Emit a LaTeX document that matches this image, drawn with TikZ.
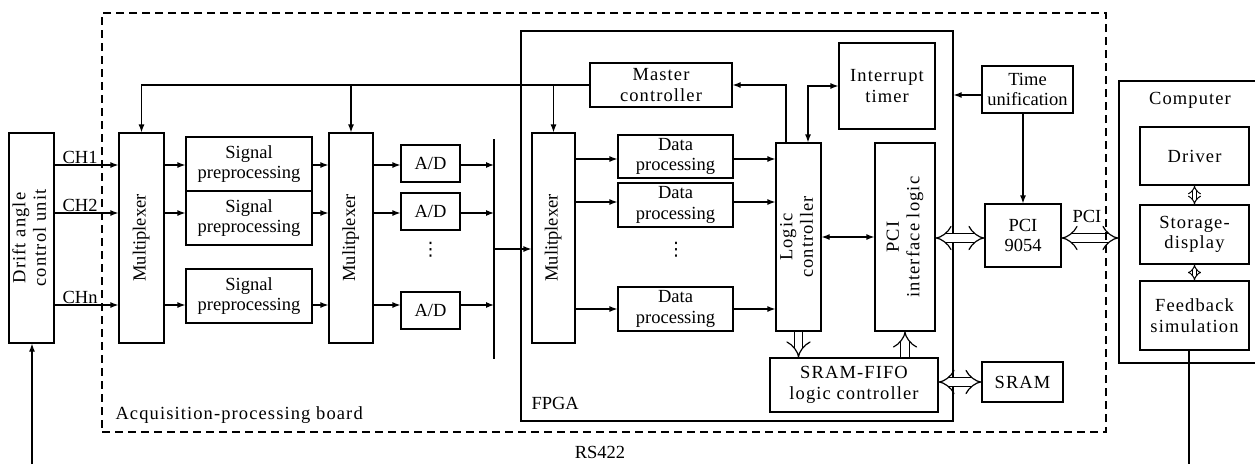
\documentclass[tikz,border=0pt]{standalone}
\usepackage{fontspec}
\usepackage{graphicx}
\setmainfont{Liberation Serif}
\newfontfamily\spaced{Liberation Serif}[LetterSpace=6]
\newfontfamily\dotsfont{DejaVu Sans}
\usetikzlibrary{arrows.meta}

\newcommand{\vlab}[1]{\rotatebox{90}{\begin{tabular}{@{}c@{}}#1\end{tabular}}}

\tikzset{
    blk/.style={draw, line width=1.2pt, inner sep=1pt, align=center},
    wide/.style={font=\fontsize{18.5}{20.5}\spaced},
    arr/.style={line width=1.2pt, -{Latex[length=8pt,width=6pt]}},
    arrb/.style={line width=1.2pt, {Latex[length=8pt,width=6pt]}-{Latex[length=8pt,width=6pt]}},
    hol/.style={double, double distance=7.5pt, line width=1.2pt, -{Implies[scale=1.25]}},
    holb/.style={double, double distance=7.5pt, line width=1.2pt, {Implies[scale=1.25]}-{Implies[scale=1.25]}},
    holsm/.style={double, double distance=3.5pt, line width=1pt, {Implies[scale=1.5]}-{Implies[scale=1.5]}}
}

\begin{document}
\begin{tikzpicture}[x=1pt, y=-1pt, font=\fontsize{18.5}{20.5}\selectfont]
    \useasboundingbox (0,0) rectangle (1255,464);

    % outer frames
    \node[draw, line width=1.2pt, minimum width=432pt, minimum height=390pt] (fpga) at (737,226) {};
    \node[draw, line width=1.2pt, minimum width=142pt, minimum height=282pt] (comp) at (1190,222) {};

    % acquisition side
    \node[blk, wide, minimum width=45pt, minimum height=210pt] (drift) at (31.5,238) {\vlab{Drift angle\\control unit}};
    \node[blk, minimum width=45pt, minimum height=210pt] (mux1) at (141.5,238) {\vlab{Multiplexer}};
    \node[blk, minimum width=126pt, minimum height=54pt] (sp1) at (249,164) {Signal\\preprocessing};
    \node[blk, minimum width=126pt, minimum height=54pt] (sp2) at (249,218) {Signal\\preprocessing};
    \node[blk, minimum width=126pt, minimum height=54pt] (sp3) at (249,296) {Signal\\preprocessing};
    \node[blk, minimum width=44pt, minimum height=210pt] (mux2) at (351,238) {\vlab{Mulitplexer}};
    \node[blk, minimum width=59pt, minimum height=37pt] (ad1) at (430.5,163.5) {A/D};
    \node[blk, minimum width=59pt, minimum height=37pt] (ad2) at (430.5,211.5) {A/D};
    \node[blk, minimum width=59pt, minimum height=37pt] (ad3) at (430.5,310.5) {A/D};
    \node (addots) at (430.5,250) {\dotsfont ⋮};
    \coordinate (bust) at (494,139);
    \coordinate (busb) at (494,359);

    % fpga
    \node[blk, wide, minimum width=142pt, minimum height=44pt] (master) at (661,85) {Master\\controller};
    \node[blk, minimum width=43pt, minimum height=210pt] (mux3) at (553.5,238) {\vlab{Mulitplexer}};
    \node[blk, minimum width=115pt, minimum height=43pt] (dp1) at (675.5,156.5) {Data\\processing};
    \node[blk, minimum width=115pt, minimum height=44pt] (dp2) at (675.5,205) {Data\\processing};
    \node[blk, minimum width=115pt, minimum height=44pt] (dp3) at (675.5,309) {Data\\processing};
    \node (dpdots) at (676,250) {\dotsfont ⋮};
    \node[blk, wide, minimum width=45pt, minimum height=188pt] (logic) at (798.5,237) {\vlab{Logic\\controller}};
    \node[blk, wide, minimum width=96pt, minimum height=86pt] (inttimer) at (887,86) {Interrupt\\timer};
    \node[blk, wide, minimum width=60pt, minimum height=188pt] (pcilogic) at (905,237) {\vlab{PCI\\interface logic}};
    \node[blk, wide, minimum width=168pt, minimum height=54pt] (sramfifo) at (854,385) {SRAM-FIFO\\logic controller};
    \node[anchor=west] (fpgalbl) at (528,403) {FPGA};

    % board
    \node[blk, wide, minimum width=81pt, minimum height=40pt] (sram) at (1022.5,382) {SRAM};
    \node[blk, minimum width=91pt, minimum height=47pt] (timeu) at (1027.5,89.5) {Time\\unification};
    \node[blk, minimum width=76pt, minimum height=63pt] (pci) at (1023,235.5) {PCI\\9054};
    \node[wide, anchor=west] (boardlbl) at (112,415) {Acquisition-processing board};

    % computer
    \node[wide] (comptxt) at (1190,100) {Computer};
    \node[blk, wide, minimum width=109pt, minimum height=58pt] (driver) at (1194.5,156) {Driver};
    \node[blk, wide, minimum width=109pt, minimum height=59pt] (storage) at (1194.5,234.5) {Storage-\\display};
    \node[blk, wide, minimum width=109pt, minimum height=69pt] (feedback) at (1194.5,315.5) {Feedback\\simulation};

    \node (rs) at (600,452) {RS422};
    \node (pcilbl) at (1087,216) {PCI};
    \coordinate (rsl) at (32,464);
    \coordinate (rsr) at (1189,464);

    % channels
    \draw[arr] (drift.east |- 0,165) -- node[above, pos=.4, inner sep=1pt] (ch1) {CH1} (mux1.west |- 0,165);
    \draw[arr] (drift.east |- 0,213) -- node[above, pos=.4, inner sep=1pt] (ch2) {CH2} (mux1.west |- 0,213);
    \draw[arr] (drift.east |- 0,305) -- node[above, pos=.4, inner sep=1pt] (chn) {CHn} (mux1.west |- 0,305);
    \draw[arr] (mux1.east |- 0,165) -- (sp1.west |- 0,165);
    \draw[arr] (mux1.east |- 0,213) -- (sp2.west |- 0,213);
    \draw[arr] (mux1.east |- 0,305) -- (sp3.west |- 0,305);
    \draw[arr] (sp1.east |- 0,165) -- (mux2.west |- 0,165);
    \draw[arr] (sp2.east |- 0,213) -- (mux2.west |- 0,213);
    \draw[arr] (sp3.east |- 0,305) -- (mux2.west |- 0,305);
    \draw[arr] (mux2.east |- 0,165) -- (ad1.west |- 0,165);
    \draw[arr] (mux2.east |- 0,213) -- (ad2.west |- 0,213);
    \draw[arr] (mux2.east |- 0,305) -- (ad3.west |- 0,305);
    \draw[arr] (ad1.east |- 0,165) -- (bust |- 0,165);
    \draw[arr] (ad2.east |- 0,213) -- (bust |- 0,213);
    \draw[arr] (ad3.east |- 0,305) -- (bust |- 0,305);
    \draw[line width=1.2pt] (bust) -- (busb);
    \draw[arr] (bust |- 0,249) -- (mux3.west |- 0,249);

    % control lines
    \draw[arr] (master.west) -| (mux1.north);
    \draw[arr] (master.west -| mux2.north) -- (mux2.north);
    \draw[arr] (master.west -| mux3.north) -- (mux3.north);
    \draw[arr] ([xshift=-12.5pt]logic.north) |- (master.east);
    \draw[arrb] ([xshift=9.5pt]logic.north) |- (inttimer.west);

    % data paths
    \draw[arr] (mux3.east |- 0,159) -- (dp1.west |- 0,159);
    \draw[arr] (mux3.east |- 0,202) -- (dp2.west |- 0,202);
    \draw[arr] (mux3.east |- 0,309) -- (dp3.west |- 0,309);
    \draw[arr] (dp1.east |- 0,159) -- (logic.west |- 0,159);
    \draw[arr] (dp2.east |- 0,202) -- (logic.west |- 0,202);
    \draw[arr] (dp3.east |- 0,309) -- (logic.west |- 0,309);
    \draw[arrb] (logic.east) -- (pcilogic.west);
    \draw[hol] (logic.south) -- (logic.south |- sramfifo.north);
    \draw[hol] (pcilogic.south |- sramfifo.north) -- (pcilogic.south);
    \draw[holb] (sramfifo.east |- sram.west) -- (sram.west);
    \draw[holb] (pcilogic.east |- 0,238) -- (pci.west |- 0,238);
    \draw[holb] (pci.east |- 0,238) -- (comp.west |- 0,238);
    \draw[arr] (timeu.west |- 0,95) -- (fpga.east |- 0,95);
    \draw[arr] (timeu.south -| pci.north) -- (pci.north);
    \draw[holsm] (driver.south) -- (storage.north);
    \draw[holsm] (storage.south) -- (feedback.north);

    % RS422 link
    \draw[arr] (rsl) -- (rsl |- drift.south);
    \draw[line width=1.2pt] (rsr |- feedback.south) -- (rsr);

    % dashed board frame on top
    \node[draw, line width=1.2pt, dash pattern=on 8pt off 5pt, minimum width=1004pt, minimum height=419pt] (board) at (604,222.5) {};
\end{tikzpicture}
\end{document}
